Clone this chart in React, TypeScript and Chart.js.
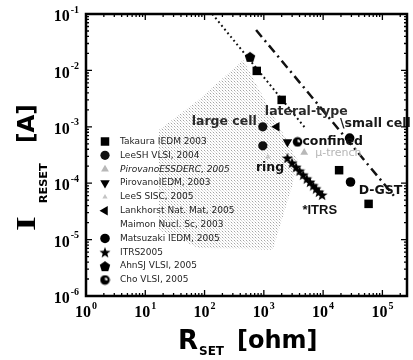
import React, { useEffect, useRef } from 'react';
import { Chart, registerables } from 'chart.js';
import { drawPoint } from 'chart.js/helpers';

Chart.register(...registerables);

// ---- axis ticks (powers of ten) ----
const xTickExps = [0, 1, 2, 3, 4, 5];
const yTickExps = [-6, -5, -4, -3, -2, -1];

// ---- series (R_SET [ohm], I_RESET [A]) ----
const takauraR = [760, 2000, 18600, 58500];
const takauraI = [9.8e-3, 3.0e-3, 1.7e-4, 4.3e-5];

const leeshR = [960, 960];
const leeshI = [1.0e-3, 4.6e-4];

const pirovanoEssR = [4800];
const pirovanoEssI = [3.5e-4];

const pirovanoIedmR = [2500];
const pirovanoIedmI = [5.4e-4];

const leesSiscR = [1170];
const leesSiscI = [2.9e-4];

const lankhorstR = [1650];
const lankhorstI = [1.0e-3];

// Maimon: shaded (halftone) region
const maimonR = [447, 3690, 3043, 1413, 79, 17, 17, 79];
const maimonI = [1.53e-2, 2.58e-4, 9.3e-5, 6.6e-6, 7.1e-6, 1.48e-5, 8.8e-4, 3.0e-3];

const matsuzakiR = [28000, 29000];
const matsuzakiI = [6.3e-4, 1.05e-4];

const itrsR = [2500, 3000, 3500, 4000, 4600, 5300, 6000, 6800, 7600, 8500, 9600];
const itrsI = [2.8e-4, 2.3e-4, 1.93e-4, 1.66e-4, 1.41e-4, 1.2e-4, 1.05e-4, 9.1e-5, 8.0e-5, 7.0e-5, 6.2e-5];

const ahnR = [585];
const ahnI = [1.74e-2];

const choR = [3700];
const choI = [5.4e-4];

// guide lines
const dottedR = [135, 5000];
const dottedI = [0.1, 9.5e-4];
const dashDotR = [740, 158000];
const dashDotI = [0.052, 5.9e-5];

// ---- texts ----
const legendLabels = [
  'Takaura IEDM 2003',
  'LeeSH VLSI, 2004',
  'PirovanoESSDERC, 2005',
  'PirovanoIEDM, 2003',
  'LeeS SISC, 2005',
  'Lankhorst Nat. Mat, 2005',
  'Maimon Nucl. Sc, 2003',
  'Matsuzaki IEDM, 2005',
  'ITRS2005',
  'AhnSJ VLSI, 2005',
  'Cho VLSI, 2005',
];
const annotationTexts = ['large cell', 'lateral-type', '\\small cell', 'confined', 'μ-trench', 'ring', '*ITRS', 'D-GST'];
const xTitleMain = 'R';
const xTitleSub = 'SET';
const xTitleUnit = '[ohm]';
const yTitleMain = 'I';
const yTitleSub = 'RESET';
const yTitleUnit = '[A]';

// layout of annotation texts (data coords of left/middle anchor) and styles
const annotationLayout = [
  { x: 60.7, y: 1.22e-3, font: 'bold 12.5px "DejaVu Sans"', color: '#2a2a2a' },
  { x: 1040, y: 1.83e-3, font: 'bold 12.5px "DejaVu Sans"', color: '#2a2a2a' },
  { x: 19200, y: 1.12e-3, font: 'bold 12.5px "DejaVu Sans"', color: '#1a1a1a' },
  { x: 4470, y: 5.37e-4, font: 'bold 12.5px "DejaVu Sans"', color: '#111' },
  { x: 7360, y: 3.43e-4, font: '11px "DejaVu Sans"', color: '#b5b5b5' },
  { x: 735, y: 1.86e-4, font: 'bold 12.5px "DejaVu Sans"', color: '#111' },
  { x: 4470, y: 3.35e-5, font: 'bold 13px "Liberation Sans"', color: '#111' },
  { x: 39800, y: 7.3e-5, font: 'bold 12.5px "DejaVu Sans"', color: '#111' },
];

function makeCanvas(size: number, draw: (c: CanvasRenderingContext2D, s: number) => void) {
  const cv = document.createElement('canvas');
  cv.width = size;
  cv.height = size;
  const c = cv.getContext('2d')!;
  draw(c, size);
  return cv;
}

function polygon(c: CanvasRenderingContext2D, cx: number, cy: number, rOut: number, rIn: number, n: number) {
  c.beginPath();
  const steps = rIn > 0 ? n * 2 : n;
  for (let i = 0; i < steps; i++) {
    const r = rIn > 0 ? (i % 2 === 0 ? rOut : rIn) : rOut;
    const a = -Math.PI / 2 + (i * 2 * Math.PI) / steps;
    const px = cx + r * Math.cos(a);
    const py = cy + r * Math.sin(a);
    if (i === 0) c.moveTo(px, py);
    else c.lineTo(px, py);
  }
  c.closePath();
}

const starImg = makeCanvas(12, (c, s) => {
  c.fillStyle = '#000';
  polygon(c, s / 2, s / 2 + 0.5, 5.8, 2.4, 5);
  c.fill();
});
const pentImg = makeCanvas(12, (c, s) => {
  c.fillStyle = '#000';
  polygon(c, s / 2, s / 2 + 0.5, 5.5, 0, 5);
  c.fill();
});
const choImg = makeCanvas(11, (c, s) => {
  c.fillStyle = '#000';
  c.beginPath();
  c.arc(s / 2, s / 2, 4.8, 0, Math.PI * 2);
  c.fill();
  c.fillStyle = '#fff';
  c.beginPath();
  c.moveTo(s / 2, s / 2);
  c.arc(s / 2, s / 2, 2.6, -Math.PI / 2, 0.2);
  c.closePath();
  c.fill();
});

// halftone dot texture for the shaded region
const halftoneTile = makeCanvas(3, (c) => {
  c.fillStyle = 'rgb(165,165,165)';
  c.fillRect(0, 0, 1, 1);
  c.fillStyle = 'rgb(215,215,215)';
  c.fillRect(1, 1, 1, 1);
  c.fillStyle = 'rgb(230,230,230)';
  c.fillRect(2, 2, 1, 1);
});

const pts = (xs: number[], ys: number[]) => xs.map((x, i) => ({ x, y: ys[i] }));

function drawPow(ctx: CanvasRenderingContext2D, exp: number, x: number, y: number, supY: number, align: string) {
  const base = '10';
  const sup = String(exp);
  ctx.font = 'bold 16px "Liberation Serif"';
  const wb = ctx.measureText(base).width;
  ctx.font = 'bold 10px "Liberation Serif"';
  const ws = ctx.measureText(sup).width;
  const total = wb + ws + 1;
  const sx = align === 'right' ? x - total : x - total / 2;
  ctx.textAlign = 'left';
  ctx.textBaseline = 'middle';
  ctx.fillStyle = '#000';
  ctx.font = 'bold 16px "Liberation Serif"';
  ctx.fillText(base, sx, y);
  ctx.font = 'bold 10px "Liberation Serif"';
  ctx.fillText(sup, sx + wb + 1, supY);
}

const decorPlugin = {
  id: 'decor',
  afterDatasetsDraw(chart: any) {
    const { ctx, chartArea: a, scales } = chart;
    const xs = scales.x;
    const ys = scales.y;
    ctx.save();

    // annotation texts
    annotationTexts.forEach((t, i) => {
      const l = annotationLayout[i];
      ctx.font = l.font;
      ctx.fillStyle = l.color;
      ctx.textAlign = 'left';
      ctx.textBaseline = 'middle';
      ctx.fillText(t, xs.getPixelForValue(l.x), ys.getPixelForValue(l.y));
    });

    // legend
    const lx = a.left + 19;
    const tx = a.left + 34;
    const ly0 = a.top + 127.5;
    const step = 13.85;
    legendLabels.forEach((label, i) => {
      const y = ly0 + i * step;
      const ds = chart.data.datasets.find((d: any) => d.label === label);
      if (ds && ds.legendMarker !== false) {
        ctx.fillStyle = ds.backgroundColor;
        ctx.strokeStyle = ds.borderColor;
        drawPoint(ctx, {
          pointStyle: ds.pointStyle,
          rotation: ds.pointRotation || 0,
          radius: ds.pointRadius,
          borderWidth: 0,
        } as any, lx, y);
      }
      ctx.font = (label.startsWith('PirovanoESS') ? 'italic ' : '') + '9px "DejaVu Sans"';
      ctx.fillStyle = '#1e1e1e';
      ctx.textAlign = 'left';
      ctx.textBaseline = 'middle';
      ctx.fillText(label, tx, y);
    });

    // frame
    ctx.strokeStyle = '#000';
    ctx.lineWidth = 2.5;
    ctx.strokeRect(a.left, a.top, a.right - a.left, a.bottom - a.top);

    // inward ticks (major and minor) on all four sides
    ctx.lineWidth = 1.3;
    ctx.beginPath();
    for (let e = 0; e <= 5; e++) {
      for (let m = 1; m <= 9; m++) {
        const v = m * Math.pow(10, e);
        if (v > xs.max) continue;
        const px = xs.getPixelForValue(v);
        const len = m === 1 ? 6 : 3;
        ctx.moveTo(px, a.bottom);
        ctx.lineTo(px, a.bottom - len);
        ctx.moveTo(px, a.top);
        ctx.lineTo(px, a.top + len);
      }
    }
    for (let e = -6; e <= -1; e++) {
      for (let m = 1; m <= 9; m++) {
        const v = m * Math.pow(10, e);
        if (v > ys.max * 1.0001) continue;
        const py = ys.getPixelForValue(v);
        const len = m === 1 ? 6 : 3;
        ctx.moveTo(a.left, py);
        ctx.lineTo(a.left + len, py);
        ctx.moveTo(a.right, py);
        ctx.lineTo(a.right - len, py);
      }
    }
    ctx.stroke();

    // tick labels
    xTickExps.forEach((e) => {
      const px = xs.getPixelForValue(Math.pow(10, e));
      drawPow(ctx, e, px, a.bottom + 17, a.bottom + 10, 'center');
    });
    yTickExps.forEach((e) => {
      const py = ys.getPixelForValue(Math.pow(10, e));
      drawPow(ctx, e, a.left - 7, py + 3, py - 4, 'right');
    });

    // x title
    ctx.fillStyle = '#000';
    ctx.textAlign = 'left';
    ctx.textBaseline = 'middle';
    ctx.font = 'bold 26px "DejaVu Sans"';
    const xr = 178;
    ctx.fillText(xTitleMain, xr, a.bottom + 46);
    const wR = ctx.measureText(xTitleMain).width;
    ctx.font = 'bold 12px "DejaVu Sans"';
    ctx.fillText(xTitleSub, xr + wR + 1, a.bottom + 56);
    ctx.font = 'bold 24px "DejaVu Sans"';
    ctx.fillText(xTitleUnit, 237, a.bottom + 46);

    // y title (rotated)
    ctx.save();
    ctx.translate(28, 231);
    ctx.rotate(-Math.PI / 2);
    ctx.save();
    ctx.scale(1.4, 1);
    ctx.font = 'bold 27px "Liberation Serif"';
    ctx.fillText(yTitleMain, 0, 0);
    const wI = ctx.measureText(yTitleMain).width * 1.4;
    ctx.restore();
    ctx.font = 'bold 11.3px "DejaVu Sans"';
    ctx.fillText(yTitleSub, wI + 13, 16);
    ctx.font = 'bold 23px "DejaVu Sans"';
    ctx.fillText(yTitleUnit, 88, 0);
    ctx.restore();

    ctx.restore();
  },
};

export default function App() {
  const ref = useRef<HTMLCanvasElement | null>(null);

  useEffect(() => {
    if (!ref.current) return;
    const black = '#000';
    const pattern = ref.current.getContext('2d')!.createPattern(halftoneTile, 'repeat');
    const chart = new Chart(ref.current, {
      type: 'scatter',
      data: {
        datasets: [
          {
            label: 'Maimon Nucl. Sc, 2003',
            data: pts(maimonR, maimonI),
            showLine: true,
            fill: 'shape',
            order: 10,
            backgroundColor: pattern || 'rgba(150,150,150,0.2)',
            borderColor: 'rgba(0,0,0,0)',
            borderWidth: 0,
            pointRadius: 0,
            legendMarker: false,
          } as any,
          {
            label: 'dotted',
            data: pts(dottedR, dottedI),
            showLine: true,
            order: 5,
            borderColor: '#111',
            borderWidth: 2,
            borderDash: [1.8, 3],
            pointRadius: 0,
          },
          {
            label: 'dashdot',
            data: pts(dashDotR, dashDotI),
            showLine: true,
            order: 5,
            borderColor: '#111',
            borderWidth: 2.5,
            borderDash: [9, 4.5, 2, 4.5],
            pointRadius: 0,
          },
          {
            label: 'Takaura IEDM 2003',
            data: pts(takauraR, takauraI),
            pointStyle: 'rect',
            pointRadius: 6,
            backgroundColor: black,
            borderColor: black,
            pointBorderWidth: 0,
          },
          {
            label: 'LeeSH VLSI, 2004',
            data: pts(leeshR, leeshI),
            pointStyle: 'circle',
            pointRadius: 4.6,
            backgroundColor: '#111',
            borderColor: '#111',
            pointBorderWidth: 0,
          },
          {
            label: 'PirovanoESSDERC, 2005',
            data: pts(pirovanoEssR, pirovanoEssI),
            pointStyle: 'triangle',
            pointRadius: 4.5,
            backgroundColor: '#b8b8b8',
            borderColor: '#b8b8b8',
            pointBorderWidth: 0,
          },
          {
            label: 'PirovanoIEDM, 2003',
            data: pts(pirovanoIedmR, pirovanoIedmI),
            pointStyle: 'triangle',
            pointRotation: 180,
            pointRadius: 5.5,
            backgroundColor: black,
            borderColor: black,
            pointBorderWidth: 0,
          },
          {
            label: 'LeeS SISC, 2005',
            data: pts(leesSiscR, leesSiscI),
            pointStyle: 'triangle',
            pointRadius: 3,
            backgroundColor: '#c4c4c4',
            borderColor: '#c4c4c4',
            pointBorderWidth: 0,
          },
          {
            label: 'Lankhorst Nat. Mat, 2005',
            data: pts(lankhorstR, lankhorstI),
            pointStyle: 'triangle',
            pointRotation: -90,
            pointRadius: 5.5,
            backgroundColor: black,
            borderColor: black,
            pointBorderWidth: 0,
          },
          {
            label: 'Matsuzaki IEDM, 2005',
            data: pts(matsuzakiR, matsuzakiI),
            pointStyle: 'circle',
            pointRadius: 4.8,
            backgroundColor: black,
            borderColor: black,
            pointBorderWidth: 0,
          },
          {
            label: 'ITRS2005',
            data: pts(itrsR, itrsI),
            pointStyle: starImg as any,
            pointRadius: 6,
            backgroundColor: black,
            borderColor: black,
            pointBorderWidth: 0,
          },
          {
            label: 'AhnSJ VLSI, 2005',
            data: pts(ahnR, ahnI),
            pointStyle: pentImg as any,
            pointRadius: 6,
            backgroundColor: black,
            borderColor: black,
            pointBorderWidth: 0,
          },
          {
            label: 'Cho VLSI, 2005',
            data: pts(choR, choI),
            pointStyle: choImg as any,
            pointRadius: 5,
            backgroundColor: black,
            borderColor: black,
            pointBorderWidth: 0,
          },
        ],
      },
      options: {
        animation: false,
        responsive: true,
        maintainAspectRatio: false,
        events: [],
        layout: { padding: { left: 86, top: 14, right: 3, bottom: 64 } },
        plugins: { legend: { display: false }, tooltip: { enabled: false } },
        scales: {
          x: { type: 'logarithmic', min: 1, max: 2.6e5, display: false },
          y: { type: 'logarithmic', min: 1e-6, max: 0.1, display: false },
        },
      },
      plugins: [decorPlugin],
    });
    return () => chart.destroy();
  }, []);

  return (
    <div style={{ position: 'fixed', left: 0, top: 0, width: 413, height: 360, background: '#fff' }}>
      <canvas ref={ref} />
    </div>
  );
}
